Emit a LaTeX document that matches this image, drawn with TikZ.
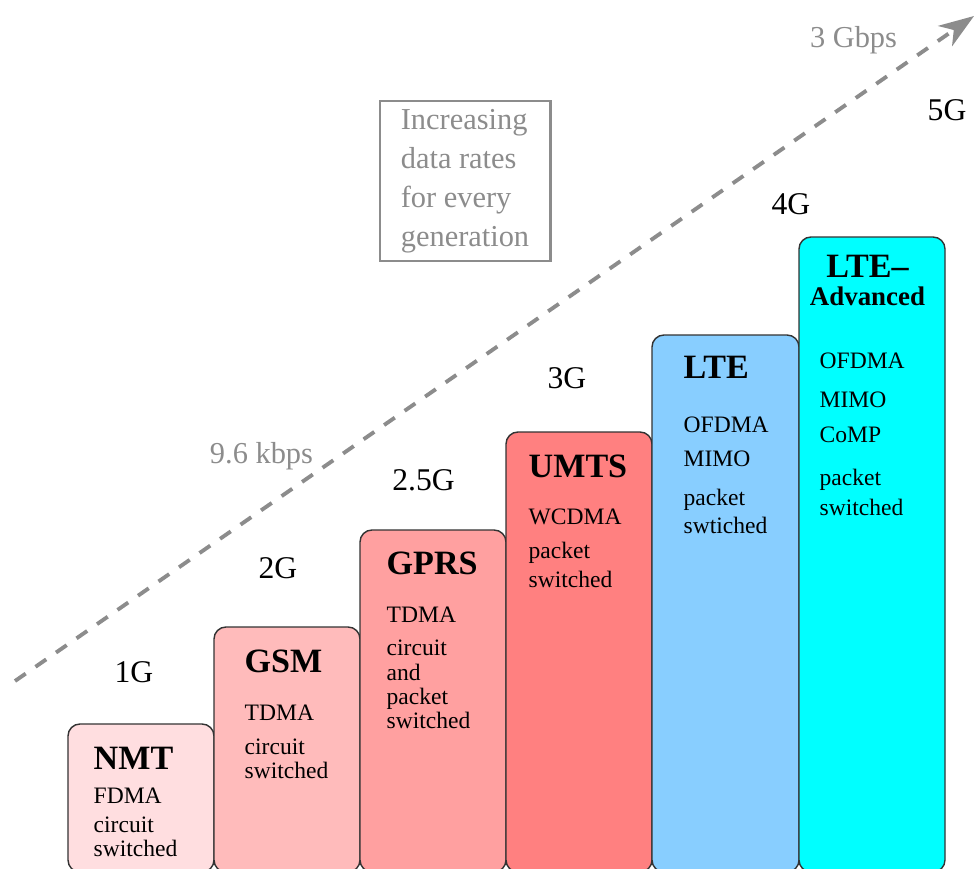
\documentclass[tikz,border=0pt]{standalone}
\usepackage{xcolor}
\usepackage{fontspec}
\setmainfont{Liberation Serif}
\usepackage{tikz}
\usetikzlibrary{arrows.meta}

\definecolor{nmtpink}{RGB}{255,222,224}
\definecolor{gsmpink}{RGB}{255,187,187}
\definecolor{gprsred}{RGB}{255,160,160}
\definecolor{umtsred}{RGB}{255,128,128}
\definecolor{lteblue}{RGB}{136,206,255}
\definecolor{ltecyan}{RGB}{0,255,255}
\definecolor{rategray}{RGB}{140,140,140}

\begin{document}
\begin{tikzpicture}[
	genbox/.style={draw=black!80, line width=0.4pt, rounded corners=3.4pt},
	title/.style={anchor=base west, inner sep=0pt, font=\fontsize{9.7}{11}\selectfont\bfseries},
	tech/.style={anchor=base west, inner sep=0pt, align=left, font=\fontsize{6.7}{6.83}\selectfont},
	glabel/.style={anchor=base, inner sep=0pt, font=\fontsize{9}{11}\selectfont},
	rate/.style={anchor=base, inner sep=0pt, text=rategray, font=\fontsize{8.65}{11}\selectfont}]

	\useasboundingbox (0,0) rectangle (9.76,8.68);

	\coordinate (low) at (0.15,1.87);
	\coordinate (high) at (9.74,8.52);
	\draw[rategray, line width=1.1pt, dash pattern=on 3.7pt off 3.4pt,
		-{Stealth[length=10pt, width=7pt, inset=3pt]}] (low) -- (high);

	\draw[genbox, fill=nmtpink] (0.68,-0.04) rectangle (2.14,1.44);
	\draw[genbox, fill=gsmpink] (2.14,-0.04) rectangle (3.60,2.41);
	\draw[genbox, fill=gprsred] (3.60,-0.04) rectangle (5.06,3.38);
	\draw[genbox, fill=umtsred] (5.06,-0.04) rectangle (6.52,4.36);
	\draw[genbox, fill=lteblue] (6.52,-0.04) rectangle (7.99,5.33);
	\draw[genbox, fill=ltecyan] (7.99,-0.04) rectangle (9.45,6.31);

	% tech nodes sit on the baseline of their last line
	\path (0.93,0.99) node[title] (nmt) {NMT};
	\path (0.93,0.12) node[tech] (nmttech) {FDMA\\[1.4pt] circuit\\ switched};
	\path (2.44,1.96) node[title] (gsm) {GSM};
	\path (2.44,0.90) node[tech] (gsmtech) {TDMA\\[2.6pt] circuit\\ switched};
	\path (3.86,2.94) node[title] (gprs) {GPRS};
	\path (3.86,1.40) node[tech] (gprstech) {TDMA\\[2.8pt] circuit\\ and\\ packet\\ switched};
	\path (5.28,3.91) node[title] (umts) {UMTS};
	\path (5.28,2.81) node[tech] (umtstech) {WCDMA\\[2.6pt] packet\\[1.4pt] switched};
	\path (6.83,4.90) node[title] (lte) {LTE};
	\path (6.83,3.35) node[tech] (ltetech) {OFDMA\\[2.6pt] MIMO\\[4.3pt] packet\\[1.1pt] swtiched};
	\path (8.675,5.91) node[title, anchor=base] (ltea) {LTE–};
	\path (8.675,5.63) node[title, anchor=base, font=\fontsize{7.65}{9}\selectfont\bfseries] (adv) {Advanced};
	\path (8.19,3.53) node[tech] (lteatech) {OFDMA\\[4.3pt] MIMO\\[3.1pt] CoMP\\[5.4pt] packet\\[1.7pt] switched};

	\path (1.34,1.86) node[glabel] (g1) {1G};
	\path (2.78,2.90) node[glabel] (g2) {2G};
	\path (4.235,3.78) node[glabel] (g25) {2.5G};
	\path (5.67,4.80) node[glabel] (g3) {3G};
	\path (7.91,6.54) node[glabel] (g4) {4G};
	\path (9.47,7.48) node[glabel] (g5) {5G};

	\path (2.615,4.05) node[rate] (slow) {9.6 kbps};
	\path (8.535,8.21) node[rate] (fast) {3 Gbps};
	\node[draw=rategray, line width=0.85pt, text=rategray, align=left, inner sep=1pt,
		font=\fontsize{8.65}{11.1}\selectfont, minimum width=1.7cm, minimum height=1.6cm]
		(note) at (4.65,6.87) {Increasing\\ data rates\\ for every\\ generation};
\end{tikzpicture}
\end{document}
